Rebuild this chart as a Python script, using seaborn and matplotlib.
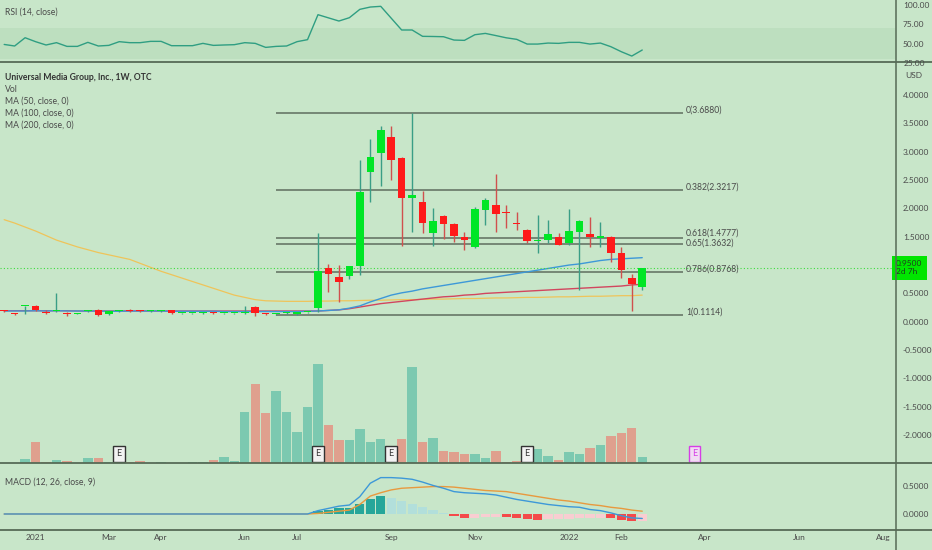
import numpy as np
import pandas as pd
import matplotlib
matplotlib.use("Agg")
import matplotlib.pyplot as plt
from matplotlib.lines import Line2D
from matplotlib.transforms import offset_copy
import seaborn as sns

# Weekly bars (OTC stock, weeks with no trades have no bar), oldest first
opens = [0.19, 0.14, 0.275, 0.28, 0.17, 0.19, 0.14, 0.14, 0.185, 0.21,
         0.13, 0.185, 0.21, 0.205, 0.19, 0.19, 0.20, 0.15, 0.15, 0.15,
         0.16, 0.15, 0.15, 0.15, 0.26, 0.14, 0.13, 0.15, 0.13, 0.17,
         0.24, 0.95, 0.79, 0.81, 0.98, 2.64, 2.98, 3.25, 2.88, 2.19,
         2.12, 1.57, 1.86, 1.73, 1.49, 1.31, 1.97, 2.05, 1.94, 1.75,
         1.61, 1.43, 1.44, 1.50, 1.39, 1.59, 1.55, 1.48, 1.50, 1.21,
         0.77, 0.62]
highs = [0.20, 0.15, 0.28, 0.29, 0.20, 0.50, 0.17, 0.155, 0.20, 0.22,
         0.19, 0.20, 0.22, 0.21, 0.20, 0.20, 0.21, 0.16, 0.16, 0.17,
         0.17, 0.16, 0.16, 0.28, 0.27, 0.15, 0.14, 0.17, 0.17, 0.18,
         1.56, 1.01, 1.00, 0.99, 2.85, 3.22, 3.45, 3.45, 2.90, 3.688,
         2.30, 2.01, 1.88, 1.75, 1.59, 2.03, 2.18, 2.60, 2.05, 1.94,
         1.63, 1.88, 1.79, 1.57, 1.98, 1.79, 1.84, 1.76, 1.52, 1.31,
         0.85, 0.95]
lows = [0.18, 0.12, 0.13, 0.19, 0.14, 0.18, 0.11, 0.13, 0.18, 0.11,
        0.12, 0.17, 0.18, 0.17, 0.18, 0.17, 0.14, 0.14, 0.14, 0.14,
        0.14, 0.14, 0.14, 0.14, 0.11, 0.12, 0.12, 0.14, 0.12, 0.16,
        0.18, 0.53, 0.35, 0.75, 0.82, 2.11, 2.40, 2.50, 1.34, 1.58,
        1.57, 1.34, 1.46, 1.41, 1.26, 1.30, 1.71, 1.59, 1.66, 1.62,
        1.38, 1.22, 1.38, 1.35, 1.35, 0.56, 1.32, 1.31, 1.06, 0.77,
        0.19, 0.56]
closes = [0.185, 0.13, 0.28, 0.20, 0.16, 0.195, 0.13, 0.15, 0.19, 0.12,
          0.19, 0.19, 0.195, 0.19, 0.195, 0.195, 0.15, 0.155, 0.155, 0.17,
          0.15, 0.155, 0.155, 0.18, 0.15, 0.13, 0.135, 0.17, 0.17, 0.175,
          0.89, 0.85, 0.71, 0.98, 2.29, 2.90, 3.38, 2.85, 2.19, 2.23,
          1.75, 1.78, 1.73, 1.52, 1.44, 1.98, 2.15, 1.90, 1.91, 1.72,
          1.43, 1.44, 1.55, 1.36, 1.60, 1.78, 1.50, 1.52, 1.21, 0.91,
          0.665, 0.95]
volume = [1, 1, 12, 62, 4, 9, 6, 1, 16, 16,
          4, 3, 4, 7, 1, 4, 1, 1, 3, 3,
          10, 18, 7, 154, 238, 151, 217, 153, 93, 169,
          297, 113, 68, 68, 103, 62, 73, 20, 73, 289,
          64, 76, 35, 33, 28, 28, 14, 37, 4, 7,
          20, 41, 22, 10, 33, 27, 46, 54, 82, 91,
          106, 17]

ma50 = [0.19, 0.19, 0.19, 0.195, 0.19, 0.195, 0.19, 0.19, 0.19, 0.19,
        0.185, 0.185, 0.19, 0.19, 0.19, 0.19, 0.185, 0.185, 0.185, 0.185,
        0.185, 0.18, 0.18, 0.18, 0.18, 0.18, 0.18, 0.18, 0.18, 0.185,
        0.19, 0.20, 0.21, 0.24, 0.28, 0.35, 0.41, 0.47, 0.51, 0.54,
        0.58, 0.61, 0.64, 0.67, 0.70, 0.73, 0.76, 0.79, 0.82, 0.85,
        0.88, 0.91, 0.94, 0.97, 1.00, 1.02, 1.05, 1.08, 1.10, 1.11,
        1.12, 1.13]
ma100 = [0.195, 0.195, 0.195, 0.195, 0.195, 0.195, 0.195, 0.19, 0.19, 0.19,
         0.19, 0.19, 0.19, 0.19, 0.19, 0.19, 0.19, 0.19, 0.19, 0.19,
         0.19, 0.19, 0.19, 0.19, 0.19, 0.19, 0.19, 0.19, 0.19, 0.19,
         0.19, 0.20, 0.21, 0.23, 0.26, 0.29, 0.32, 0.34, 0.36, 0.38,
         0.40, 0.42, 0.44, 0.45, 0.47, 0.48, 0.50, 0.51, 0.52, 0.53,
         0.54, 0.55, 0.56, 0.57, 0.58, 0.59, 0.60, 0.61, 0.62, 0.63,
         0.65, 0.66]
ma200 = [1.80, 1.74, 1.67, 1.60, 1.52, 1.44, 1.38, 1.32, 1.27, 1.22,
         1.18, 1.14, 1.10, 1.03, 0.96, 0.89, 0.83, 0.77, 0.71, 0.65,
         0.59, 0.53, 0.47, 0.43, 0.39, 0.37, 0.365, 0.36, 0.36, 0.36,
         0.365, 0.365, 0.37, 0.37, 0.375, 0.38, 0.38, 0.385, 0.39, 0.39,
         0.395, 0.40, 0.40, 0.405, 0.41, 0.41, 0.415, 0.42, 0.42, 0.425,
         0.43, 0.43, 0.435, 0.44, 0.44, 0.445, 0.45, 0.45, 0.455, 0.46,
         0.46, 0.47]

rsi = [49.0, 47.0, 57.7, 52.6, 48.3, 51.3, 46.5, 46.5, 51.7, 47.0,
       47.8, 52.6, 51.3, 51.3, 53.0, 53.0, 47.4, 47.4, 47.4, 50.4,
       47.8, 48.3, 48.7, 51.3, 50.4, 45.2, 46.5, 47.0, 52.6, 55.2,
       87.5, 83.4, 79.3, 83.6, 94.4, 97.4, 98.3, 83.0, 67.7, 67.7,
       59.5, 59.3, 59.0, 54.7, 54.3, 61.6, 63.3, 60.5, 57.6, 55.6,
       49.5, 49.5, 50.8, 50.4, 51.7, 51.7, 49.5, 50.8, 46.1, 39.6,
       34.0, 41.8]

macd_line = [0.0] * 30 + [
    0.06, 0.10, 0.14, 0.16, 0.31, 0.55, 0.65, 0.65, 0.64, 0.62,
    0.57, 0.51, 0.46, 0.40, 0.38, 0.37, 0.36, 0.34, 0.30, 0.26,
    0.23, 0.20, 0.17, 0.15, 0.13, 0.12, 0.08, 0.06, 0.02, -0.03,
    -0.07, -0.08]
signal_line = [0.0] * 30 + [
    0.01, 0.03, 0.05, 0.07, 0.17, 0.32, 0.38, 0.43, 0.46, 0.47,
    0.48, 0.49, 0.49, 0.48, 0.46, 0.44, 0.42, 0.41, 0.40, 0.37,
    0.34, 0.31, 0.28, 0.25, 0.23, 0.20, 0.17, 0.15, 0.12, 0.10,
    0.07, 0.05]
macd_hist = [0.0] * 30 + [
    0.05, 0.08, 0.10, 0.105, 0.18, 0.26, 0.33, 0.28, 0.23, 0.17,
    0.12, 0.07, 0.02, -0.03, -0.07, -0.065, -0.06, -0.055, -0.06, -0.075,
    -0.09, -0.10, -0.095, -0.09, -0.085, -0.08, -0.075, -0.07, -0.08, -0.105,
    -0.13, -0.12]

earnings_bars = [11, 30, 37, 50]
next_earnings_bar = 66

fib_ratios = [0, 0.382, 0.618, 0.65, 0.786, 1]
fib_prices = [3.6880, 2.3217, 1.4777, 1.3632, 0.8768, 0.1114]
fib_start, fib_end = 26, 64.9

last_price = 0.95
time_left = "2d 7h"

price_ticks = [-2.0, -1.5, -1.0, -0.5, 0.0, 0.5, 1.5, 2.0, 2.5, 3.0, 3.5, 4.0]
tick_bars = [3, 10, 15, 23, 28, 37, 45, 54, 59, 67, 76, 84]
tick_labels = ["2021", "Mar", "Apr", "Jun", "Jul", "Sep", "Nov", "2022", "Feb", "Apr", "Jun", "Aug"]

# Style
BG = "#c8e6c9"
BAND = "#bddfbf"
SEP = "#566b56"
TXT = "#4a4a4a"
UP, DOWN = "#00e626", "#ff1a1a"
UP_WICK, DOWN_WICK = "#3a9e86", "#d0504e"
FS = 6.0

sns.set_theme(style="white", rc={"axes.facecolor": BG, "figure.facecolor": BG})
plt.rcParams["font.family"] = ["Lato", "DejaVu Sans"]
plt.rcParams["axes.unicode_minus"] = False

df = pd.DataFrame({"bar": np.arange(len(closes)), "open": opens, "high": highs,
                   "low": lows, "close": closes, "volume": volume,
                   "ma50": ma50, "ma100": ma100, "ma200": ma200, "rsi": rsi,
                   "macd": macd_line, "signal": signal_line, "hist": macd_hist})
df["up"] = df["close"] >= df["open"]

W, H = 932, 550
fig = plt.figure(figsize=(W / 100, H / 100), dpi=100)
right = 896 / W
ax_rsi = fig.add_axes([0, (H - 62) / H, right, 62 / H])
ax = fig.add_axes([0, (H - 463) / H, right, 401 / H], sharex=ax_rsi)
ax_macd = fig.add_axes([0, (H - 530) / H, right, 67 / H], sharex=ax_rsi)
ax_vol = ax.twinx()

for a in (ax_rsi, ax, ax_macd, ax_vol):
    for s in a.spines.values():
        s.set_visible(False)
ax.set_zorder(ax_vol.get_zorder() + 1)
ax.patch.set_visible(False)
ax_vol.patch.set_visible(False)

# ---- RSI pane
ax_rsi.axhspan(30, 70, color=BAND, lw=0, zorder=0)
sns.lineplot(data=df, x="bar", y="rsi", ax=ax_rsi, color="#2f9e82", linewidth=1)
ax_rsi.set_ylim(26.3, 106.5)

# ---- Volume (overlay at the bottom of the price pane)
vol_colors = np.where(df["up"], "#7cc9b0", "#dfa08e")
ax_vol.bar(df["bar"], df["volume"], width=0.9, color=vol_colors, linewidth=0)
ax_vol.set_ylim(0, max(volume) / 0.247)
ax_vol.set_yticks([])

# ---- Price pane: moving averages, candles, fib levels
sns.lineplot(data=df, x="bar", y="ma200", ax=ax, color="#efc45a", linewidth=0.9)
sns.lineplot(data=df, x="bar", y="ma100", ax=ax, color="#d2455e", linewidth=1)
sns.lineplot(data=df, x="bar", y="ma50", ax=ax, color="#3d98d8", linewidth=1)

ax.hlines(fib_prices, fib_start, fib_end, color="#5f6d5f", linewidth=1.1, zorder=1)
# labels sit a few pixels above their line; the two close levels are spread a little
label_lift = {0.618: 5, 0.65: 1}
for r, p in zip(fib_ratios, fib_prices):
    tr = offset_copy(ax.transData, fig=fig, x=0, y=label_lift.get(r, 3), units="dots")
    ax.text(fib_end + 0.3, p, f"{r:g}({p:.4f})", fontsize=6.2, color=TXT,
            va="center", ha="left", transform=tr)

wick_colors = np.where(df["up"], UP_WICK, DOWN_WICK)
body_colors = np.where(df["up"], UP, DOWN)
ax.vlines(df["bar"], df["low"], df["high"], colors=wick_colors, linewidth=1, zorder=3)
body_low = df[["open", "close"]].min(axis=1)
body_h = (df["close"] - df["open"]).abs().clip(lower=0.018)
ax.bar(df["bar"], body_h, bottom=body_low, width=0.72, color=body_colors,
       linewidth=0, zorder=4)

ax.axhline(last_price, color="#3fdc3f", linewidth=0.8, linestyle=(0, (1, 2)), zorder=2)
ax.set_ylim(-2.49, 4.58)

for b in earnings_bars:
    ax.text(b, -2.33, "E", fontsize=6.5, color="#333333", ha="center", va="center",
            bbox=dict(boxstyle="square,pad=0.35", fc="#f2f2f2", ec="#333333", lw=1),
            zorder=6)
ax.text(next_earnings_bar, -2.33, "E", fontsize=6.5, color="#d63ee6", ha="center",
        va="center", zorder=6,
        bbox=dict(boxstyle="square,pad=0.35", fc="#f1dcf3", ec="#d63ee6", lw=1))

# ---- MACD pane
hist = df["hist"].to_numpy()
prev = np.concatenate([[0.0], hist[:-1]])
hist_colors = np.where(hist >= 0,
                       np.where(hist >= prev, "#26a69a", "#b2dfdb"),
                       np.where(hist < prev, "#f44a4a", "#f9cdd1"))
mask = hist != 0
ax_macd.bar(df["bar"][mask], hist[mask], width=0.88, color=hist_colors[mask], linewidth=0)
sns.lineplot(data=df, x="bar", y="signal", ax=ax_macd, color="#e8993e", linewidth=1)
sns.lineplot(data=df, x="bar", y="macd", ax=ax_macd, color="#3d98d8", linewidth=1)
ax_macd.set_ylim(-0.286, 0.911)

# ---- Axes, ticks, labels
ax_rsi.set_xlim(-0.4, 85.26)
for a in (ax_rsi, ax, ax_macd):
    a.set_xlabel("")
    a.set_ylabel("")
    a.yaxis.tick_right()
    a.tick_params(axis="y", length=0, pad=5, labelsize=FS, labelcolor=TXT)
    a.tick_params(axis="x", length=0, labelbottom=False)
ax_vol.set_ylabel("")

ax_rsi.set_yticks([50, 75, 100], labels=["50.00", "75.00", "100.00"])
ax.set_yticks(price_ticks, labels=[f"{v:.4f}" for v in price_ticks])
ax_macd.set_yticks([0.0, 0.5], labels=["0.0000", "0.5000"])
ax_macd.set_xticks(tick_bars, labels=tick_labels)
ax_macd.tick_params(axis="x", labelbottom=True, pad=3, labelsize=FS, labelcolor=TXT)

ax.text(1.0, last_price, f"{last_price:.4f}\n{time_left}", transform=ax.get_yaxis_transform(),
        fontsize=FS, color="#1e3d1e", ha="left", va="center", linespacing=1.15,
        bbox=dict(boxstyle="square,pad=0.5", fc="#00e600", ec="none"),
        zorder=10, clip_on=False)

fig.text(914 / W, 1 - 63 / H, "25.00", fontsize=FS, color=TXT, ha="center", va="center")
fig.text(914 / W, 1 - 76 / H, "USD", fontsize=FS, color=TXT, ha="center", va="center")

fig.text(5 / W, 1 - 12 / H, "RSI (14, close)", fontsize=6.2, color=TXT, va="center")
legend_lines = ["Universal Media Group, Inc., 1W, OTC", "Vol", "MA (50, close, 0)",
                "MA (100, close, 0)", "MA (200, close, 0)"]
for i, line in enumerate(legend_lines):
    fig.text(5 / W, 1 - (77 + 12 * i) / H, line, fontsize=6.2,
             color="#333333" if i == 0 else TXT,
             fontweight="bold" if i == 0 else "normal", va="center")
fig.text(5 / W, 1 - 482 / H, "MACD (12, 26, close, 9)", fontsize=6.2, color=TXT, va="center")

# pane separators and price-scale border
for y in (62, 463, 530):
    fig.add_artist(Line2D([0, 1], [1 - y / H] * 2, transform=fig.transFigure, color=SEP, lw=1.3))
fig.add_artist(Line2D([right, right], [0, 1], transform=fig.transFigure, color=SEP, lw=1.1))

fig.savefig("out.png", dpi=100, facecolor=BG)
